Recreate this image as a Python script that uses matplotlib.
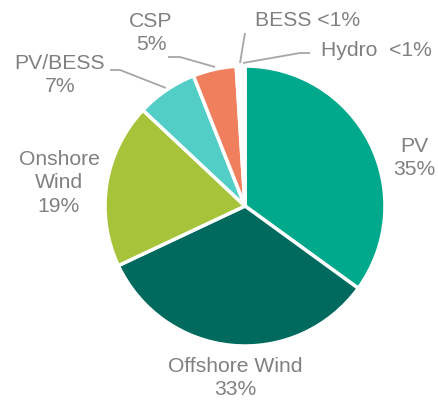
import matplotlib
matplotlib.use('Agg')
import matplotlib.pyplot as plt

labels = ["PV", "Offshore Wind", "Onshore Wind", "PV/BESS", "CSP", "BESS", "Hydro"]
shares = [35, 33, 19, 7, 5, 0.5, 0.5]
colors = ["#00A98C", "#006A5F", "#A6C33A", "#52CEC6", "#F07F5E", "#F4F4F4", "#F4F4F4"]

W, H = 439, 401
TXT = "#808080"

plt.rcParams['font.family'] = ['Liberation Sans', 'DejaVu Sans']

fig = plt.figure(figsize=(W / 100, H / 100), dpi=100)
ax = fig.add_axes([0, 0, 1, 1])

cx, cy, r = 245, H - 206, 140
ax.pie(shares, colors=colors, startangle=90, counterclock=False,
       center=(cx, cy), radius=r, frame=True,
       wedgeprops={'edgecolor': 'white', 'linewidth': 2.5})
ax.set_xlim(0, W)
ax.set_ylim(0, H)
ax.set_aspect('equal')
ax.axis('off')


def txt(x, y, s, ha='center'):
    ax.text(x, H - y, s, ha=ha, va='center', fontsize=15.2, color=TXT, linespacing=1.27)


def leader(pts):
    xs = [p[0] for p in pts]
    ys = [H - p[1] for p in pts]
    ax.plot(xs, ys, color="#a6a6a6", lw=1.3, solid_capstyle='butt')


txt(414, 158, "PV\n35%")
txt(235, 378, "Offshore Wind\n33%")
txt(59, 183, "Onshore\nWind\n19%")
txt(60, 75, "PV/BESS\n7%")
txt(151, 33, "CSP\n5%")
txt(255, 20, "BESS <1%", ha='left')
txt(321, 50, "Hydro  <1%", ha='left')

leader([(110, 70), (120, 70), (166, 88)])
leader([(168, 57), (180, 57), (215, 67)])
leader([(245, 33), (240, 63)])
leader([(310, 53), (300, 53), (243, 63)])

fig.savefig("out.png", dpi=100)
